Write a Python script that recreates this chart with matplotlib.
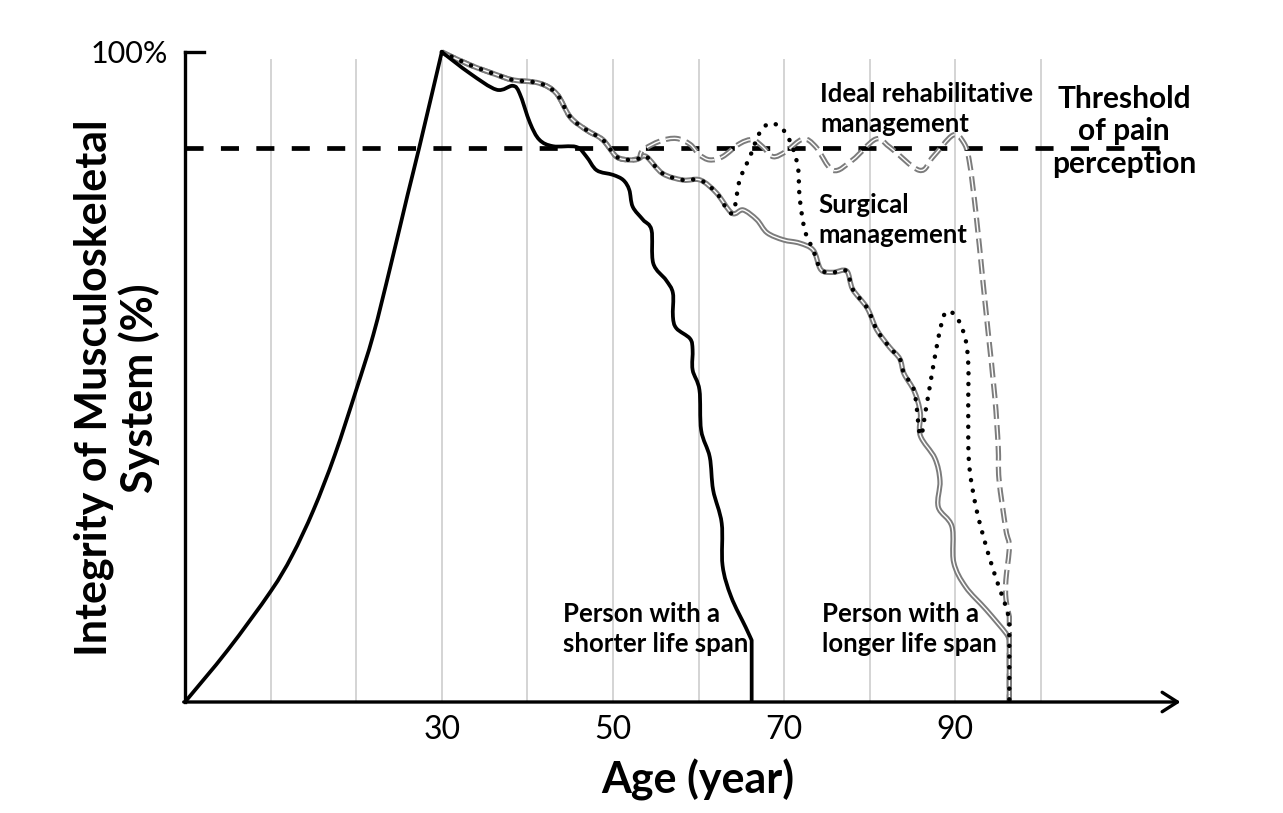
import matplotlib
matplotlib.use("Agg")
import matplotlib.pyplot as plt
from matplotlib.path import Path
from matplotlib.patches import PathPatch
import numpy as np

plt.rcParams['font.family'] = ['Lato', 'DejaVu Sans']
plt.rcParams['lines.scale_dashes'] = False

# ---------------- data (age in years, integrity in %) ----------------
shorter_age = [0, 5.0, 10.0, 12.5, 15.0, 17.5, 20.0, 22.0, 24.0, 26.0, 27.4, 30.0,
               33.3, 36.4, 38.3, 39.1, 40.3, 41.4, 43.0, 45.7, 46.9, 48.1, 50.0, 51.2, 51.9,
               52.3, 53.5, 54.5, 54.7, 56.2, 57.0, 57.0, 57.4, 59.0, 59.3, 59.3, 60.1, 60.3,
               61.3, 61.7, 62.7, 62.8, 63.8, 65.5, 66.2, 66.2]
shorter_val = [0, 8.0, 17.0, 22.5, 29.5, 38.0, 48.0, 56.5, 67.0, 78.0, 85.5, 100.0,
               96.7, 94.2, 94.8, 93.6, 89.1, 86.5, 85.5, 85.4, 83.9, 81.8, 81.1, 80.3, 78.8,
               76.2, 74.2, 72.6, 67.5, 64.9, 62.9, 59.3, 57.5, 55.9, 54.2, 51.1, 48.0, 41.8,
               37.7, 32.6, 27.5, 21.0, 16.2, 11.5, 9.5, 0.0]

longer_age = [30.0, 33.3, 36.4, 38.3, 41.4, 43.4, 45.0, 46.9, 48.8, 50.4, 51.9, 53.0, 53.9,
              55.8, 58.2, 60.2, 62.1, 63.9, 65.2, 66.8, 68.0, 69.9, 71.8, 73.4, 74.3, 75.7,
              77.3, 78.0, 79.7, 80.8, 82.3, 83.5, 84.0, 85.2, 85.9, 85.9, 87.6, 88.2, 88.0,
              89.6, 89.8, 91.2, 93.6, 95.9, 96.3, 96.3]
longer_val = [100.0, 98.0, 96.5, 95.7, 95.2, 93.6, 90.0, 88.0, 86.5, 83.9, 83.4, 83.6, 83.9,
              81.3, 80.3, 80.3, 78.3, 75.2, 75.7, 74.2, 72.2, 71.1, 70.6, 69.5, 66.5, 66.1,
              66.3, 63.5, 60.6, 57.3, 54.6, 52.8, 50.5, 47.8, 44.5, 41.0, 37.5, 34.0, 30.0,
              27.0, 21.5, 17.7, 14.2, 10.6, 9.5, 0.0]

# surgical management: two bumps leaving the longer-life-span curve
surg1_age = [64.8, 66.0, 67.1, 68.3, 69.7, 70.8, 71.6, 71.8, 72.4]
surg1_val = [80.3, 83.9, 87.5, 89.0, 88.3, 85.9, 82.3, 77.7, 72.6]
surg2_age = [86.6, 87.4, 88.2, 88.9, 90.1, 91.1, 91.5, 91.5, 91.6, 92.4, 93.6, 94.8, 95.9, 96.3, 96.3]
surg2_val = [45.4, 51.6, 57.2, 60.0, 59.3, 56.2, 52.1, 44.4, 36.7, 30.0, 23.9, 18.8, 14.7, 12.6, 0.0]

# ideal rehabilitative management: leaves the curve near age 53
ideal_age = [53.5, 55.5, 57.4, 59.0, 60.1, 61.3, 62.8, 64.8, 66.3, 67.5, 68.7, 70.2, 72.2,
             73.7, 75.7, 78.0, 80.7, 82.3, 85.8, 87.4, 89.7, 90.9, 91.6, 92.4, 93.2, 93.8,
             94.6, 95.0, 95.1, 95.9, 96.3, 95.9, 95.9, 96.3, 96.3]
ideal_val = [84.9, 86.3, 86.7, 85.8, 84.2, 83.4, 83.9, 85.9, 86.5, 85.4, 83.9, 84.7, 86.6,
             85.4, 81.8, 83.4, 86.6, 85.4, 81.8, 83.9, 87.2, 86.2, 83.4, 75.2, 64.9, 57.2,
             47.0, 39.3, 34.2, 26.5, 23.9, 18.8, 15.9, 13.1, 0.0]

threshold = 85.3
grid_ages = [10, 20, 30, 40, 50, 60, 70, 80, 90, 100]
tick_ages = [30, 50, 70, 90]
tick_labels = ['30', '50', '70', '90']

# ---------------- assemble derived series ----------------
la = np.array(longer_age); lv = np.array(longer_val)
m1 = la <= 63.9
m2 = (la >= 73.4) & (la < 85.9)
surg_age = np.concatenate([la[m1], surg1_age, la[m2], [85.9], surg2_age])
surg_val = np.concatenate([lv[m1], surg1_val, lv[m2], [41.0], surg2_val])
m3 = la <= 53.0
ideal_full_age = np.concatenate([la[m3], ideal_age])
ideal_full_val = np.concatenate([lv[m3], ideal_val])


def smooth_path(xs, ys, corners=()):
    """Smoothed (Catmull-Rom style Bezier) path through the given points;
    indices in `corners` are kept as sharp corners."""
    P = np.column_stack([xs, ys]).astype(float)
    n = len(P)
    verts = [P[0]]
    codes = [Path.MOVETO]
    cset = set(corners) | {0, n - 1}
    for i in range(n - 1):
        p0 = P[i - 1] if i not in cset else P[i]
        p3 = P[i + 2] if (i + 1) not in cset else P[i + 1]
        c1 = P[i] + (P[i + 1] - p0) / 6.0
        c2 = P[i + 1] - (p3 - P[i]) / 6.0
        verts += [c1, c2, P[i + 1]]
        codes += [Path.CURVE4] * 3
    return Path(np.array(verts), codes)


def draw(ax, xs, ys, corners, **kw):
    p = PathPatch(smooth_path(xs, ys, corners), fill=False, clip_on=False, **kw)
    ax.add_patch(p)
    return p

# ---------------- figure ----------------
W, H = 1283, 813
fig = plt.figure(figsize=(W / 100, H / 100), dpi=100)
ax = fig.add_axes([185 / W, (H - 702) / H, 1000 / W, 650 / H])
ax.set_xlim(0, 1000 / 8.56)
ax.set_ylim(0, 100)
for s in ax.spines.values():
    s.set_visible(False)

for g in grid_ages:
    ax.plot([g, g], [0, 98.8], color='#d4d4d4', lw=1.4, zorder=1)

ax.plot([0, 113.8], [threshold, threshold], color='black', lw=3.4,
        linestyle=(0, (13, 12.5)), dash_capstyle='butt', zorder=2)

gray = '#7c7c7c'
n_l = len(longer_age)
# longer life span: gray double line
draw(ax, longer_age, longer_val, [n_l - 2], edgecolor=gray, lw=3.8, zorder=3,
     joinstyle='round')
draw(ax, longer_age, longer_val, [n_l - 2], edgecolor='white', lw=1.0, zorder=3.1,
     joinstyle='round')
# ideal rehabilitative: gray double dashes
n_i = len(ideal_full_age)
draw(ax, ideal_full_age, ideal_full_val, [n_i - 2], edgecolor=gray, lw=3.8,
     linestyle=(0, (10.5, 4.5)), capstyle='butt', zorder=4)
draw(ax, ideal_full_age, ideal_full_val, [n_i - 2], edgecolor='white', lw=1.0,
     linestyle=(0, (10.5, 4.5)), capstyle='butt', zorder=4.1)
# surgical management: dots
n_s = len(surg_age)
draw(ax, surg_age, surg_val, [n_s - 2], edgecolor='black', lw=3.2,
     linestyle=(0, (0.1, 7.6)), capstyle='round', zorder=5)
# shorter life span: black solid
n_b = len(shorter_age)
draw(ax, shorter_age, shorter_val, [shorter_age.index(30.0), n_b - 2], edgecolor='black',
     lw=2.7, zorder=6, joinstyle='round')

# axes lines
ax.plot([0, 0], [0, 100], color='black', lw=2.4, zorder=7, clip_on=False,
        solid_capstyle='projecting')
ax.plot([0, 2.2], [100, 100], color='black', lw=2.4, zorder=7, clip_on=False)
ax.annotate('', xy=(116.3, 0), xytext=(-0.15, 0),
            arrowprops=dict(arrowstyle='->,head_length=1.1,head_width=0.7', lw=2.4,
                            color='black', shrinkA=0, shrinkB=0), zorder=7,
            annotation_clip=False)

ax.set_xticks(tick_ages)
ax.set_xticklabels(tick_labels, fontsize=23)
ax.set_yticks([100])
ax.set_yticklabels(['100%'], fontsize=22)
ax.tick_params(axis='x', length=0, pad=9)
ax.tick_params(axis='y', length=0, pad=12)

fig.text(698 / W, 1 - 793 / H, 'Age (year)', fontsize=31, fontweight='bold',
         ha='center', va='baseline')
fig.text(117 / W, 1 - 388 / H, 'Integrity of Musculoskeletal\nSystem (%)', rotation=90,
         fontsize=31, fontweight='bold', ha='center', va='center', multialignment='center',
         linespacing=1.12)


def ftxt(x, y_last_baseline, s, size, ha='left', ls=1.3):
    fig.text(x / W, 1 - y_last_baseline / H, s, fontsize=size, fontweight='bold', ha=ha,
             va='baseline', linespacing=ls, multialignment='center' if ha == 'center' else 'left')

ftxt(820, 132, 'Ideal rehabilitative\nmanagement', 18.5)
ftxt(1124, 173, 'Threshold\nof pain\nperception', 21.5, ha='center', ls=1.2)
ftxt(818, 243, 'Surgical\nmanagement', 18.5)
ftxt(563, 652, 'Person with a\nshorter life span', 18.5)
ftxt(822, 652, 'Person with a\nlonger life span', 18.5)

fig.savefig('out.png', dpi=100)
